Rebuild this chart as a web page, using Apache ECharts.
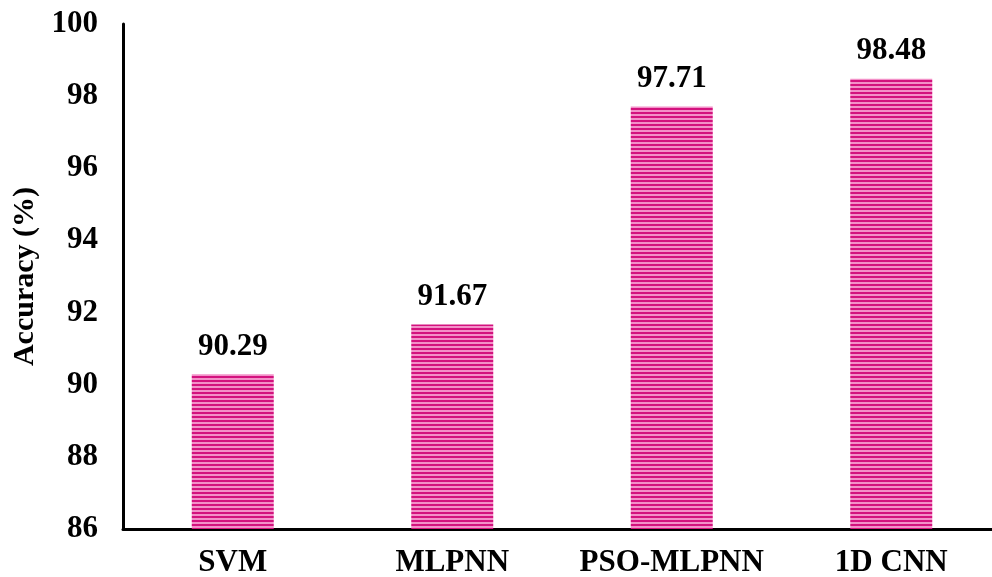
<!DOCTYPE html>
<html>
<head>
<meta charset="utf-8">
<script src="https://cdn.jsdelivr.net/npm/echarts@6/dist/echarts.min.js"></script>
<style>
html,body{margin:0;padding:0;background:#fff;}
#chart{width:992px;height:577px;}
</style>
</head>
<body>
<div id="chart"></div>
<script>
const categories = ['SVM', 'MLPNN', 'PSO-MLPNN', '1D CNN'];
const accuracy = [90.29, 91.67, 97.71, 98.48];

// horizontal stripe fill for the bars
function stripePattern() {
  const c = document.createElement('canvas');
  c.width = 4; c.height = 4;
  const g = c.getContext('2d');
  g.fillStyle = '#f390c8';
  g.fillRect(0, 0, 4, 4);
  g.fillStyle = '#d3127e';
  g.fillRect(0, 0, 4, 2);
  return c;
}

const font = '"Liberation Serif", "Times New Roman", serif';
const chart = echarts.init(document.getElementById('chart'));
chart.setOption({
  animation: false,
  grid: { left: 123, right: -9, top: 24, bottom: 48, containLabel: false, outerBoundsMode: 'none' },
  xAxis: {
    type: 'category',
    data: categories,
    axisLine: { lineStyle: { color: '#000', width: 3 } },
    axisTick: { show: false },
    axisLabel: { interval: 0, color: '#000', fontFamily: font, fontWeight: 'bold', fontSize: 31, margin: 18 }
  },
  yAxis: {
    type: 'value',
    min: 86, max: 100, interval: 2,
    name: 'Accuracy (%)',
    nameLocation: 'middle',
    nameGap: 80,
    nameTextStyle: { color: '#000', fontFamily: font, fontWeight: 'bold', fontSize: 30 },
    axisLine: { show: true, lineStyle: { color: '#000', width: 3 } },
    axisTick: { show: false },
    splitLine: { show: false },
    axisLabel: { color: '#000', fontFamily: font, fontWeight: 'bold', fontSize: 31, margin: 25 }
  },
  series: [{
    type: 'bar',
    data: accuracy,
    barWidth: 82,
    itemStyle: { color: { image: stripePattern(), repeat: 'repeat' } },
    label: {
      show: true, position: 'top', distance: 12,
      color: '#000', fontFamily: font, fontWeight: 'bold', fontSize: 31,
      formatter: p => p.value.toFixed(2)
    }
  }]
});
</script>
</body>
</html>
